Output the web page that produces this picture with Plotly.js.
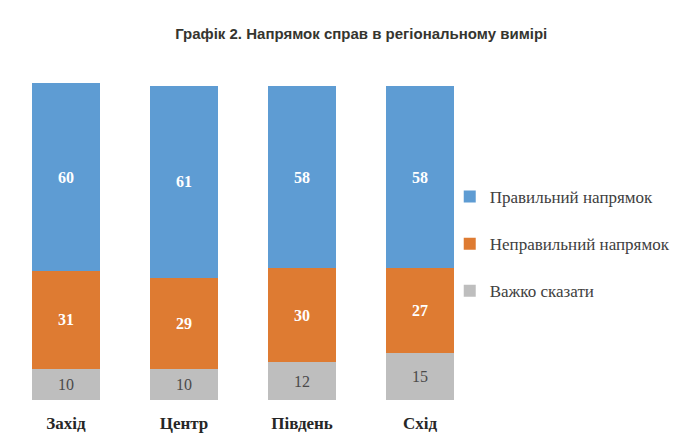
<!DOCTYPE html>
<html><head><meta charset="utf-8">
<script src="https://cdn.plot.ly/plotly-3.0.1.min.js"></script>
<style>html,body{margin:0;padding:0;background:#fff;}#chart{width:692px;height:447px;}</style>
</head><body><div id="chart"></div>
<script>
const regions = ['Захід', 'Центр', 'Південь', 'Схід'];
const seriesNames = ['Правильний напрямок', 'Неправильний напрямок', 'Важко сказати'];
const rightDir = [60, 61, 58, 58];
const wrongDir = [31, 29, 30, 27];
const hardToSay = [10, 10, 12, 15];
const colors = ['#5E9CD3', '#DE7B32', '#BEBEBE'];

const serif = 'Liberation Serif, Times New Roman, serif';
function mk(vals, i, labelColor, weight) {
  return {
    type: 'bar', x: regions, y: vals, name: seriesNames[i], legendgroup: 'g' + i, legendrank: i + 1,
    marker: {color: colors[i], line: {width: 0}},
    text: vals.map(String), textposition: 'inside', insidetextanchor: 'middle',
    textfont: {family: serif, size: 16, color: labelColor, weight: weight},
    hoverinfo: 'skip'
  };
}
const data = [
  mk(hardToSay, 2, '#4a4a4a', 400),
  mk(wrongDir, 1, '#ffffff', 700),
  mk(rightDir, 0, '#ffffff', 700)
];
const layout = {
  width: 692, height: 447,
  paper_bgcolor: '#fff', plot_bgcolor: '#fff',
  margin: {l: 7, r: 213, t: 83, b: 47},
  barmode: 'stack', bargap: 0.43,
  showlegend: true,
  title: {text: 'Графік 2. Напрямок справ в регіональному вимірі',
    font: {family: 'Liberation Sans, Arial, sans-serif', size: 15, color: '#35352f', weight: 700},
    x: 0.522, xanchor: 'center', y: 0.924, yanchor: 'middle'},
  xaxis: {type: 'category', range: [-0.5, 3.5], showgrid: false, zeroline: false, showline: false,
    ticks: '', tickfont: {family: serif, size: 17, color: '#262626', weight: 700}, ticklabelstandoff: 11},
  yaxis: {range: [0, 101], visible: false, showgrid: false, zeroline: false},
  legend: {x: 0.938, xanchor: 'left', y: 0.492, yanchor: 'middle', traceorder: 'grouped',
    font: {family: serif, size: 17, color: '#404040'}, itemwidth: 30, tracegroupgap: 22,
    bgcolor: 'rgba(0,0,0,0)'},
};
Plotly.newPlot('chart', data, layout, {displayModeBar: false, staticPlot: true});
</script></body></html>
